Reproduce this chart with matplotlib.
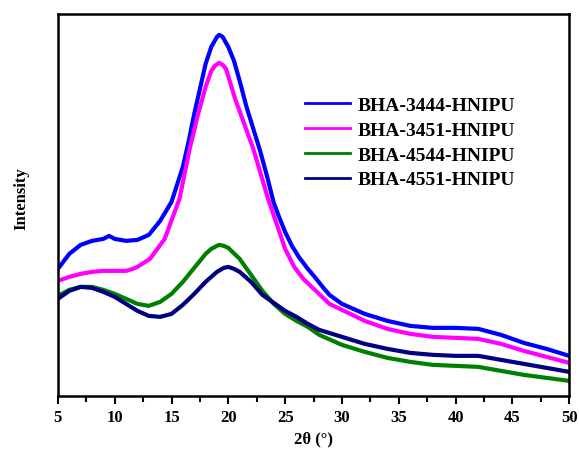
import matplotlib
matplotlib.use("Agg")
import matplotlib.pyplot as plt
from matplotlib.ticker import MultipleLocator

# XRD curves, intensity in arbitrary units
x_3444 = [5, 6, 7, 8, 9, 9.5, 10, 11, 12, 13, 14, 15, 16, 16.5, 17, 17.5, 18, 18.5, 19, 19.2, 19.5,
          20, 20.5, 21, 21.6, 22.2, 22.8, 23.4, 24, 24.5, 25, 25.6, 26.2, 27, 27.6, 28.3, 28.9, 30,
          32, 34, 36, 38, 40, 42, 44, 46, 48, 50]
y_3444 = [127, 142, 151, 155, 157, 160, 157, 155, 156, 161, 175, 194, 229, 254, 282, 307, 332, 349, 359, 361, 359,
          349, 335, 315, 289, 267, 245, 220, 193, 178, 164, 150, 139, 127, 119, 109, 101, 92,
          82, 75, 70, 68, 68, 67, 61, 53, 47, 40]

x_3451 = [5, 6, 7, 8, 9, 10, 11, 11.6, 12, 13.1, 14.4, 15.7, 16.6, 17.3, 18, 18.5, 18.8, 19.2, 19.5, 19.8,
          20.6, 21.4, 22.2, 23.5, 25, 25.8, 26.6, 27.8, 28.9, 30, 32, 34, 36, 38, 40, 42, 44, 46, 48, 50]
y_3451 = [115, 119, 122, 124, 125, 125, 125, 127, 129, 137, 157, 197, 247, 280, 309, 325, 330, 333, 331, 327,
          297, 272, 247, 197, 147, 129, 117, 104, 92, 86, 75, 67, 62, 59, 58, 57, 52, 45, 39, 33]

x_4544 = [5, 6, 7, 8, 9, 10, 11, 12, 13, 14, 15, 16, 17, 18, 18.5, 19, 19.2, 19.6, 20, 21, 22, 23, 24, 25,
          26, 27, 28, 30, 32, 34, 36, 38, 40, 42, 44, 46, 48, 50]
y_4544 = [100, 106, 109, 109, 106, 102, 97, 92, 90, 94, 102, 114, 128, 142, 147, 150, 151, 150, 148, 137, 121,
          105, 92, 82, 75, 69, 61, 51, 44, 38, 34, 31, 30, 29, 25, 21, 18, 15]

x_4551 = [5, 6, 7, 8, 9, 10, 11, 12, 13, 14, 15, 16, 17, 18, 19, 19.6, 20, 20.5, 21, 22, 23, 24, 25, 26,
          27, 28, 30, 32, 34, 36, 38, 40, 42, 44, 46, 48, 50]
y_4551 = [97, 105, 109, 108, 104, 99, 92, 85, 80, 79, 82, 91, 102, 114, 124, 128, 129, 127, 124, 114, 101, 93,
          85, 79, 72, 66, 59, 52, 47, 43, 41, 40, 40, 36, 32, 28, 24]

plt.rcParams['font.family'] = ['Liberation Serif', 'DejaVu Serif']
plt.rcParams['font.weight'] = 'bold'

fig = plt.figure(figsize=(5.79, 4.52), dpi=100)
ax = fig.add_axes([0.1, 0.122, 0.883, 0.845])

ax.plot(x_3444, y_3444, color="#0000ff", lw=3, label="BHA-3444-HNIPU")
ax.plot(x_3451, y_3451, color="#ff00ff", lw=3, label="BHA-3451-HNIPU")
ax.plot(x_4544, y_4544, color="#008000", lw=3, label="BHA-4544-HNIPU")
ax.plot(x_4551, y_4551, color="#000080", lw=3, label="BHA-4551-HNIPU")

ax.set_xlim(5, 50)
ax.set_ylim(0, 382)
ax.xaxis.set_major_locator(MultipleLocator(5))
ax.xaxis.set_minor_locator(MultipleLocator(2.5))
ax.set_yticks([])
ax.tick_params(axis="x", which="major", direction="out", length=6, width=1.5, labelsize=12)
ax.tick_params(axis="x", which="minor", direction="out", length=4, width=1.5)
for s in ax.spines.values():
    s.set_linewidth(1.8)

ax.set_xlabel("2θ (°)", fontsize=12, fontweight="bold")
ax.set_ylabel("Intensity", fontsize=12, fontweight="bold")
ax.yaxis.set_label_coords(-0.055, 0.52)

leg = ax.legend(loc="upper left", bbox_to_anchor=(0.45, 0.83), frameon=False, fontsize=14,
                handlelength=2.3, labelspacing=0.37, handletextpad=0.36)
for line in leg.get_lines():
    line.set_linewidth(2)

fig.savefig("out.png", dpi=100)
